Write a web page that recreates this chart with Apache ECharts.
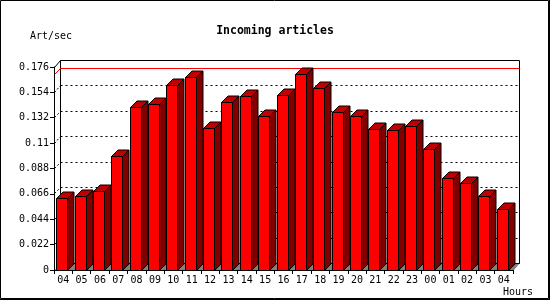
<!DOCTYPE html>
<html><head><meta charset="utf-8">
<script src="https://cdn.jsdelivr.net/npm/echarts@6/dist/echarts.min.js"></script>
<style>html,body{margin:0;padding:0;background:#fff}#c{width:550px;height:300px}</style>
</head><body><div id="c"></div>
<script>
const categories = ['04','05','06','07','08','09','10','11','12','13','14','15','16','17','18','19','20','21','22','23','00','01','02','03','04'];
const values = [0.0617,0.0637,0.0678,0.0981,0.1406,0.1432,0.1597,0.1666,0.1224,0.1450,0.1502,0.1328,0.1510,0.1692,0.1571,0.1363,0.1328,0.1216,0.1207,0.1242,0.1042,0.0791,0.0747,0.0635,0.0527];
const yTicks = [0,0.022,0.044,0.066,0.088,0.11,0.132,0.154,0.176];
const gridValues = [0.022,0.044,0.066,0.088,0.11,0.132,0.154];
const maxValue = Math.max.apply(null, values);
const titleText = 'Incoming articles';
const yUnit = 'Art/sec';
const xUnit = 'Hours';

const D = 6.5;
const r = v => Math.round(v - 0.5) + 0.5;
const chart = echarts.init(document.getElementById('c'), null, {renderer:'canvas'});

function frameRender(params, api) {
  const yMin = yTicks[0], yMax = yTicks[yTicks.length-1];
  const pTL = api.coord([0, yMax]);
  const cs = params.coordSys;
  const xL = cs.x, xR = cs.x + cs.width;
  const y0 = api.coord([0, yMin])[1];
  const yT = api.coord([0, yMax])[1];
  const children = [];
  // back plane
  children.push({type:'polygon', shape:{points:[[r(xL+D),r(yT-D)],[r(xR+D),r(yT-D)],[r(xR+D),r(y0-D)],[r(xL+D),r(y0-D)]]}, style:{fill:'#fff', stroke:'#000', lineWidth:1}});
  // floor
  children.push({type:'polygon', shape:{points:[[r(xL),r(y0)],[r(xR),r(y0)],[r(xR+D),r(y0-D)],[r(xL+D),r(y0-D)]]}, style:{fill:'#808080', stroke:null}});
  children.push({type:'line', shape:{x1:r(xL+D),y1:r(y0-D),x2:r(xR+D),y2:r(y0-D)}, style:{stroke:'#000',lineWidth:1}});
  // left wall top diagonal
  children.push({type:'line', shape:{x1:r(xL),y1:r(yT),x2:r(xL+D),y2:r(yT-D)}, style:{stroke:'#000',lineWidth:1}});
  // grid lines
  gridValues.forEach(v => {
    const y = api.coord([0, v])[1];
    children.push({type:'line', shape:{x1:r(xL+D),y1:r(y-D),x2:r(xR+D),y2:r(y-D)}, style:{stroke:'#000',lineWidth:1,lineDash:[2,3]}});
    children.push({type:'line', shape:{x1:r(xL),y1:r(y),x2:r(xL+D),y2:r(y-D)}, style:{stroke:'#000',lineWidth:1,lineDash:[2,2]}});
  });
  // max line
  const ym = api.coord([0, maxValue])[1];
  children.push({type:'line', shape:{x1:r(xL+D),y1:r(ym-D),x2:r(xR+D),y2:r(ym-D)}, style:{stroke:'#f00',lineWidth:1}});
  children.push({type:'line', shape:{x1:r(xL),y1:r(ym),x2:r(xL+D),y2:r(ym-D)}, style:{stroke:'#f00',lineWidth:1}});
  return {type:'group', children};
}

function barRender(params, api) {
  const i = api.value(0), v = api.value(1);
  const p = api.coord([i, v]);
  const b = api.coord([i, 0]);
  const x0 = r(p[0]-6.5), x1 = r(p[0]+4.5);
  const yt = r(p[1]), yb = r(b[1]);
  const st = {stroke:'#000', lineWidth:1, lineJoin:'miter'};
  return {type:'group', children:[
    {type:'polygon', shape:{points:[[x1,yt],[x1+D,yt-D],[x1+D,yb-D],[x1,yb]]}, style:Object.assign({fill:'#800000'}, st)},
    {type:'polygon', shape:{points:[[x0,yt],[x0+D,yt-D],[x1+D,yt-D],[x1,yt]]}, style:Object.assign({fill:'#c00000'}, st)},
    {type:'polygon', shape:{points:[[x0,yt],[x1,yt],[x1,yb],[x0,yb]]}, style:Object.assign({fill:'#ff0000'}, st)}
  ]};
}

const option = {
  animation:false,
  backgroundColor:'#fff',
  title:{text:titleText, left:'center', top:20, textStyle:{fontFamily:'DejaVu Sans Mono', fontWeight:'bold', fontSize:11.5, color:'#000'}},
  grid:{left:54, right:37, top:67, bottom:30},
  xAxis:{type:'category', data:categories, boundaryGap:true,
    axisLine:{lineStyle:{color:'#000'}}, axisTick:{show:true, interval:0, length:4, lineStyle:{color:'#000'}},
    axisLabel:{interval:0, margin:5, color:'#000', fontFamily:'DejaVu Sans Mono', fontSize:10},
    splitLine:{show:false}, z:5},
  yAxis:{type:'value', min:0, max:0.176, interval:0.022,
    axisLine:{show:true, lineStyle:{color:'#000'}}, axisTick:{show:true, length:4, lineStyle:{color:'#000'}},
    axisLabel:{margin:5, color:'#000', fontFamily:'DejaVu Sans Mono', fontSize:10, formatter:v=>String(parseFloat(v.toFixed(3)))},
    splitLine:{show:false}, z:5},
  graphic:[
    {type:'text', left:30, top:31, style:{text:yUnit, fill:'#000', font:'10px "DejaVu Sans Mono"'}},
    {type:'text', right:17, top:287, style:{text:xUnit, fill:'#000', font:'10px "DejaVu Sans Mono"'}},
    {type:'rect', shape:{x:0.5,y:0.5,width:548,height:298}, style:{fill:null, stroke:'#000', lineWidth:1}, z:100},
    {type:'line', shape:{x1:549.5,y1:0,x2:549.5,y2:300}, style:{stroke:'#000', lineWidth:1}, z:100},
    {type:'line', shape:{x1:0,y1:299.5,x2:550,y2:299.5}, style:{stroke:'#000', lineWidth:1}, z:100}
  ],
  series:[
    {type:'custom', name:'frame', data:[[0,0]], renderItem:frameRender, z:1, silent:true},
    {type:'custom', name:'Incoming', data:values.map((v,i)=>[i,v]), renderItem:barRender, z:2, encode:{x:0,y:1}}
  ]
};
chart.setOption(option);
</script></body></html>
